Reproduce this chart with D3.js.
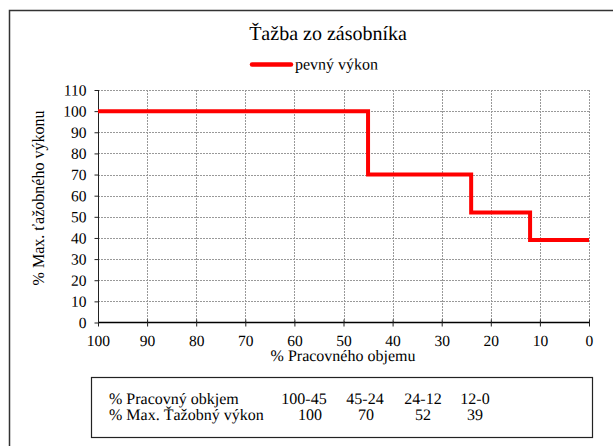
<!DOCTYPE html>
<html><head><meta charset="utf-8">
<script src="https://cdn.jsdelivr.net/npm/d3@7"></script>
<style>body{margin:0;background:#fff;}</style>
</head><body>
<svg id="c" width="613" height="446"></svg>
<script>
const title = "Ťažba zo zásobníka";
const seriesName = "pevný výkon";
const stepStart = [100, 45, 24, 12];
const stepEnd = [45, 24, 12, 0];
const stepValues = [100, 70, 52, 39];
const xTicks = [100, 90, 80, 70, 60, 50, 40, 30, 20, 10, 0];
const yTicks = [0, 10, 20, 30, 40, 50, 60, 70, 80, 90, 100, 110];
const tableRowLabels = ["% Pracovný obkjem", "% Max. Ťažobný výkon"];
const tableRanges = ["100-45", "45-24", "24-12", "12-0"];
const xTitle = "% Pracovného objemu";
const yTitle = "% Max. ťažobného výkonu";

const FONT = '"Liberation Serif"';
const TILT = 0.04; // tiny rotation so small text renders with the outline font
const svg = d3.select("#c");

function label(x, y, px, str, anchor, rot) {
  return svg.append("text")
    .attr("transform", `translate(${x},${y}) rotate(${rot || TILT})`)
    .attr("text-anchor", anchor || "start")
    .style("font-family", FONT).style("font-size", px + "px")
    .attr("fill", "#000").text(str);
}
function styleAxisText(sel, px) {
  sel.each(function () {
    const t = d3.select(this);
    const ox = +t.attr("x") || 0, oy = +t.attr("y") || 0;
    t.attr("x", null).attr("y", null)
      .attr("transform", `translate(${ox},${oy}) rotate(${TILT})`)
      .style("font-family", FONT).style("font-size", px + "px").attr("fill", "#000");
  });
}

// outer chart frame (right & bottom off-page)
svg.append("path").attr("d","M9.5,460V10.5H640").attr("fill","none").attr("stroke","#333").attr("stroke-width",1.5);

const x = d3.scaleLinear().domain([100,0]).range([98,589]);
const y = d3.scaleLinear().domain([0,110]).range([322.5,90]);

// grid
const g = svg.append("g");
g.selectAll(".hg").data(yTicks.slice(1)).join("line")
  .attr("x1",x(100)).attr("x2",x(0)).attr("y1",d=>Math.round(y(d))+0.5).attr("y2",d=>Math.round(y(d))+0.5)
  .attr("stroke","#999").attr("stroke-dasharray","2,1");
g.selectAll(".vg").data(xTicks.filter(d=>d!==100)).join("line")
  .attr("y1",y(110)).attr("y2",y(0)).attr("x1",d=>Math.round(x(d))+0.5).attr("x2",d=>Math.round(x(d))+0.5)
  .attr("stroke","#999").attr("stroke-dasharray","2,1");

// axes
const yAxis = d3.axisLeft(y).tickValues(yTicks).tickSize(4).tickPadding(8);
const ya = svg.append("g").attr("transform","translate(98.5,0)").call(yAxis);
ya.select(".domain").attr("stroke","#222").attr("d",`M0,${y(110)}V${y(0)}`);
ya.selectAll("line").attr("stroke","#222");
styleAxisText(ya.selectAll("text"), 15.5);

const xAxis = d3.axisBottom(x).tickValues(xTicks).tickSize(4).tickPadding(8.5);
const xa = svg.append("g").attr("transform",`translate(0,${y(0)})`).call(xAxis);
xa.select(".domain").attr("stroke","#000").attr("stroke-width",1.5).attr("d",`M${x(100)},0H${x(0)}`);
xa.selectAll(".tick line").attr("y1",-3).attr("y2",4).attr("stroke","#222");
styleAxisText(xa.selectAll("text"), 15.5);

// step line
const pts = [];
stepValues.forEach((v,i)=>{pts.push([stepStart[i],v]);pts.push([stepEnd[i],v]);});
svg.append("path").datum(pts)
  .attr("d",d3.line().x(d=>x(d[0])).y(d=>y(d[1])))
  .attr("fill","none").attr("stroke","#ff0000").attr("stroke-width",4).attr("stroke-linejoin","miter");

// title & legend
label(328, 40, 20, title, "middle");
svg.append("line").attr("x1",252).attr("x2",291).attr("y1",64.5).attr("y2",64.5).attr("stroke","#ff0000").attr("stroke-width",4.5).attr("stroke-linecap","round");
label(295, 69.5, 16, seriesName);

// axis titles
label(343, 361, 16, xTitle, "middle");
label(44, 198, 16, yTitle, "middle", -90);

// data table
svg.append("rect").attr("x",91.5).attr("y",377.5).attr("width",501).attr("height",60).attr("fill","none").attr("stroke","#222").attr("stroke-width",1.2);
const rowY = [404, 420];
tableRowLabels.forEach((t,i)=>label(109, rowY[i], 16, t));
const rangeX = [304, 365, 423, 475];
const valX = [310, 366, 423, 475];
tableRanges.forEach((t,i)=>label(rangeX[i], rowY[0], 16, t, "middle"));
stepValues.forEach((t,i)=>label(valX[i], rowY[1], 16, String(t), "middle"));
</script>
</body></html>
